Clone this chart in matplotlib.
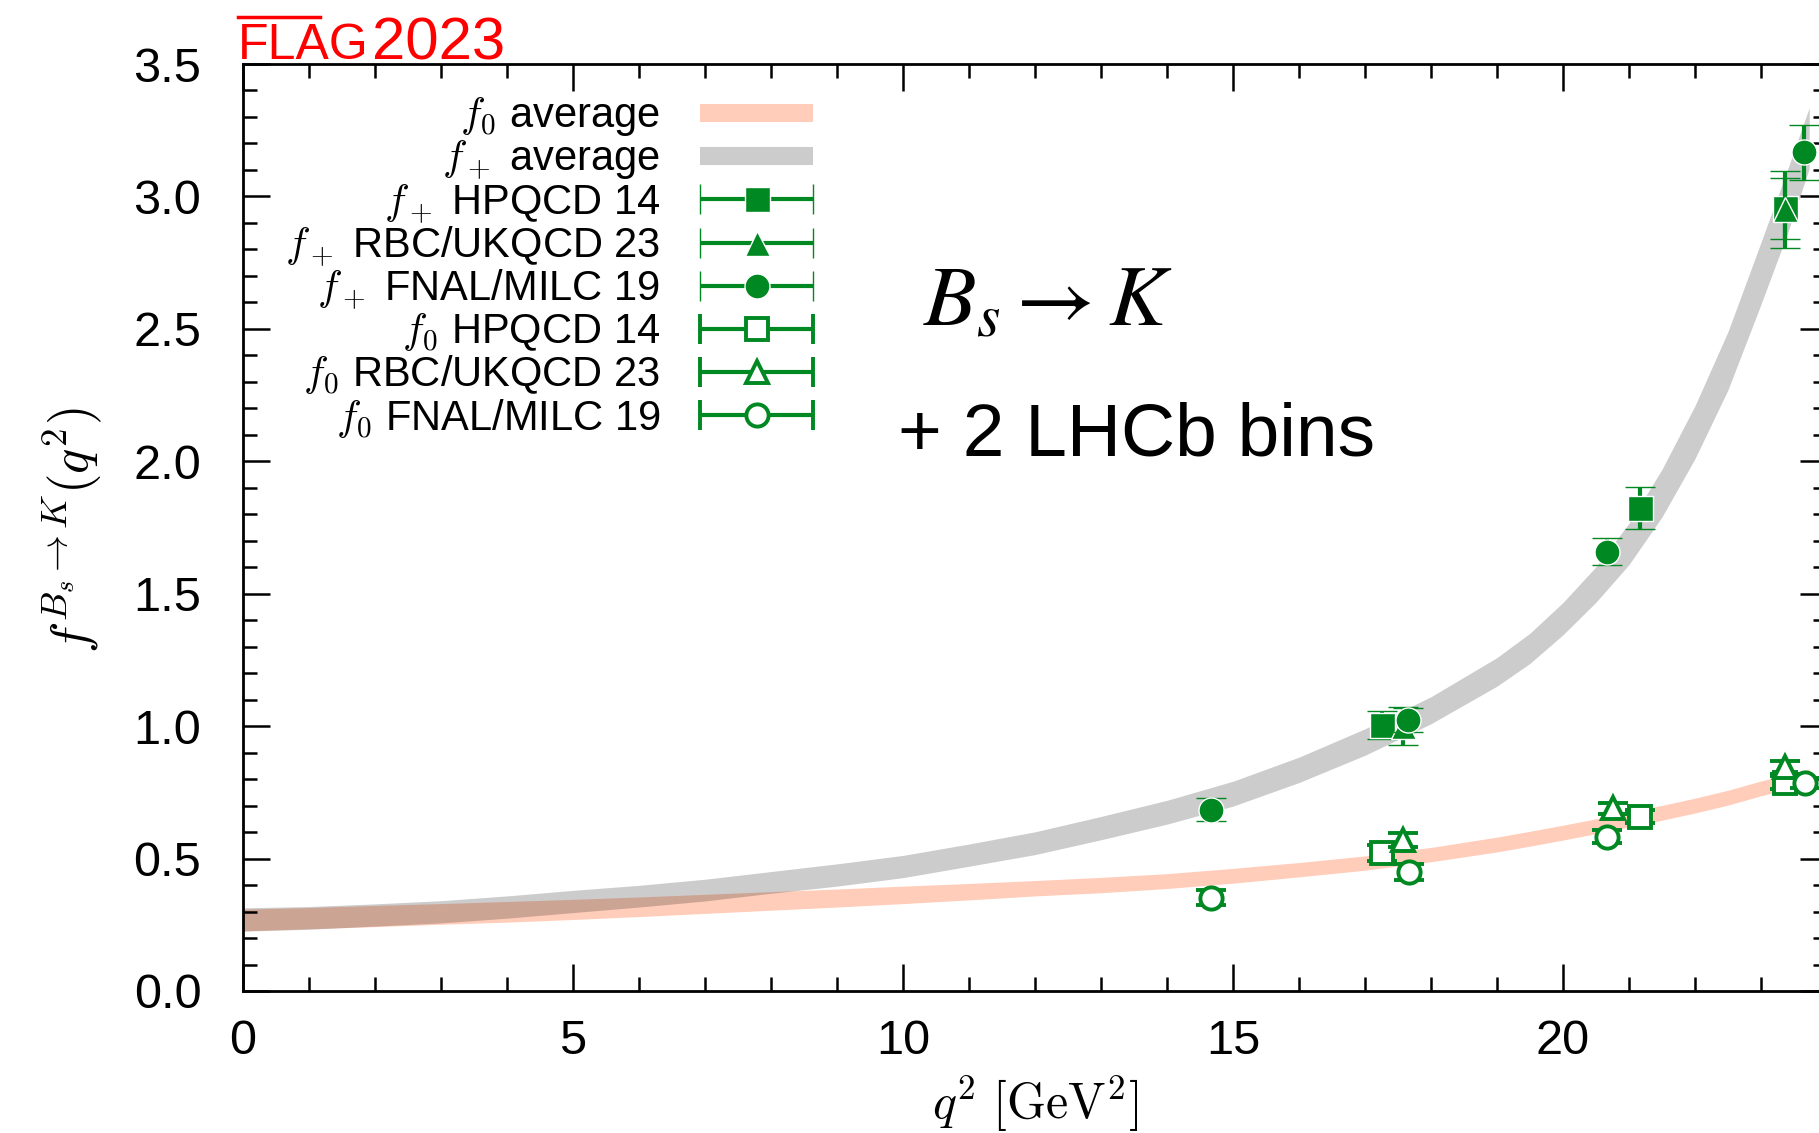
import numpy as np
import matplotlib
matplotlib.use('Agg')
import matplotlib.pyplot as plt
from matplotlib.ticker import MultipleLocator, FormatStrFormatter
from matplotlib.lines import Line2D

plt.rcParams['font.family'] = ['Liberation Sans', 'DejaVu Sans']
plt.rcParams['mathtext.fontset'] = 'cm'

# FLAG average bands: q^2, centre, half width
q_band = [0, 1, 2, 3, 4, 5, 6, 7, 8, 9, 10, 11, 12, 13, 14, 15, 16, 17, 18, 19,
          19.5, 20, 20.5, 21, 21.5, 22, 22.5, 23, 23.4, 23.73]
fp_mid = [0.270, 0.276, 0.287, 0.299, 0.317, 0.338, 0.358, 0.381, 0.410, 0.438,
          0.470, 0.513, 0.558, 0.615, 0.675, 0.745, 0.835, 0.940, 1.060, 1.205,
          1.294, 1.406, 1.535, 1.688, 1.880, 2.110, 2.380, 2.710, 2.980, 3.220]
fp_hw = [0.044, 0.043, 0.042, 0.042, 0.042, 0.042, 0.041, 0.041, 0.041, 0.042,
         0.042, 0.042, 0.043, 0.044, 0.045, 0.047, 0.048, 0.050, 0.051, 0.054,
         0.057, 0.061, 0.067, 0.078, 0.090, 0.100, 0.110, 0.117, 0.120, 0.115]
f0_mid = [0.268, 0.275, 0.283, 0.291, 0.299, 0.308, 0.318, 0.329, 0.340, 0.351,
          0.363, 0.375, 0.388, 0.400, 0.415, 0.435, 0.458, 0.483, 0.515, 0.553,
          0.575, 0.598, 0.622, 0.648, 0.673, 0.700, 0.730, 0.765, 0.790, 0.810]
f0_hw = [0.041, 0.040, 0.040, 0.039, 0.039, 0.038, 0.037, 0.036, 0.035, 0.034,
         0.033, 0.031, 0.029, 0.029, 0.028, 0.028, 0.027, 0.027, 0.027, 0.028,
         0.028, 0.028, 0.028, 0.028, 0.028, 0.028, 0.028, 0.028, 0.028, 0.028]

# lattice data points: q^2, value, error
fp_hpqcd_q = [17.25, 21.16, 23.36]
fp_hpqcd_v = [1.005, 1.823, 2.956]
fp_hpqcd_e = [0.054, 0.079, 0.115]
fp_rbc_q = [17.58, 23.36]
fp_rbc_v = [1.000, 2.952]
fp_rbc_e = [0.071, 0.145]
fp_fnal_q = [14.67, 17.65, 20.66, 23.65]
fp_fnal_v = [0.684, 1.023, 1.659, 3.166]
fp_fnal_e = [0.044, 0.045, 0.050, 0.105]
f0_hpqcd_q = [17.25, 21.16, 23.36]
f0_hpqcd_v = [0.520, 0.658, 0.786]
f0_hpqcd_e = [0.030, 0.024, 0.025]
f0_rbc_q = [17.58, 20.76, 23.36]
f0_rbc_v = [0.570, 0.690, 0.845]
f0_rbc_e = [0.025, 0.020, 0.025]
f0_fnal_q = [14.67, 17.67, 20.66, 23.66]
f0_fnal_v = [0.352, 0.448, 0.583, 0.785]
f0_fnal_e = [0.028, 0.030, 0.025, 0.020]

labels = [r'$f_0$ average', r'$f_+$ average', r'$f_+$ HPQCD 14',
          r'$f_+$ RBC/UKQCD 23', r'$f_+$ FNAL/MILC 19', r'$f_0$ HPQCD 14',
          r'$f_0$ RBC/UKQCD 23', r'$f_0$ FNAL/MILC 19']

green = '#008822'
peach = '#ffcdb9'

fig = plt.figure(figsize=(18.19, 11.33), dpi=100)
ax = fig.add_axes([243/1819, (1133-991)/1133, (1827-243)/1819, (991-64)/1133])

q = np.array(q_band)
ax.fill_between(q, np.array(f0_mid)-np.array(f0_hw), np.array(f0_mid)+np.array(f0_hw),
                color=peach, lw=0, zorder=1)
ax.fill_between(q, np.array(fp_mid)-np.array(fp_hw), np.array(fp_mid)+np.array(fp_hw),
                color='black', alpha=0.2, lw=0, zorder=2)

series = [
    (fp_hpqcd_q, fp_hpqcd_v, fp_hpqcd_e, 's', True),
    (fp_rbc_q, fp_rbc_v, fp_rbc_e, '^', True),
    (fp_fnal_q, fp_fnal_v, fp_fnal_e, 'o', True),
    (f0_hpqcd_q, f0_hpqcd_v, f0_hpqcd_e, 's', False),
    (f0_rbc_q, f0_rbc_v, f0_rbc_e, '^', False),
    (f0_fnal_q, f0_fnal_v, f0_fnal_e, 'o', False),
]

def style(marker, filled):
    if filled:
        return dict(fmt=marker, color=green, ms=18, mfc=green, mec='white', mew=1.0,
                    elinewidth=3, capsize=11, capthick=3)
    return dict(fmt=marker, color=green, ms=16, mfc='white', mec=green, mew=2.8,
                elinewidth=3, capsize=11, capthick=3)

for i, (xs, ys, es, m, filled) in enumerate(series):
    ax.errorbar(xs, ys, yerr=es, zorder=5 + i, **style(m, filled))

# legend, drawn by hand: text right aligned, key on the right
row0, drow = 3.315, 0.163
x_txt, x_key, key_half = 6.32, 7.785, 0.855
for i, lab in enumerate(labels):
    row = row0 - i * drow
    ax.text(x_txt, row - 0.054, lab, ha='right', va='baseline', fontsize=30, zorder=20)
    if i < 2:
        col = peach if i == 0 else '#cccccc'
        ax.plot([x_key - key_half, x_key + key_half], [row, row], lw=13, color=col,
                solid_capstyle='butt', zorder=20)
    else:
        xs, ys, es, m, filled = series[i - 2]
        ax.errorbar([x_key], [row], xerr=[key_half], zorder=20, **style(m, filled))

ax.text(10.3, 2.515, r'$B_s \to K$', fontsize=62, va='baseline', math_fontfamily='stix')
ax.text(9.92, 2.02, '+ 2 LHCb bins', fontsize=54, va='baseline')

ax.set_xlim(0, 24)
ax.set_ylim(0, 3.5)
ax.xaxis.set_major_locator(MultipleLocator(5))
ax.xaxis.set_minor_locator(MultipleLocator(1))
ax.yaxis.set_major_locator(MultipleLocator(0.5))
ax.yaxis.set_minor_locator(MultipleLocator(0.1))
ax.yaxis.set_major_formatter(FormatStrFormatter('%.1f'))
ax.xaxis.set_major_formatter(FormatStrFormatter('%d'))
ax.tick_params(which='both', direction='in', top=True, right=True, width=1.8)
ax.tick_params(which='major', length=19.5)
ax.tick_params(which='minor', length=10)
ax.tick_params(axis='y', pad=30, labelsize=35)
ax.tick_params(axis='x', pad=20, labelsize=35)
for s in ax.spines.values():
    s.set_linewidth(2)

fig.text(72/1819, 1-530/1133, r'$f^{B_s\to K}(q^2)$', rotation=90, ha='center',
         va='center', fontsize=38)
fig.text(1035/1819, 1-1104/1133, r'$q^2\ [\mathrm{GeV}^2]$', ha='center', va='center',
         fontsize=36)

# FLAG logo
fig.text(238/1819, 1-59/1133, 'FLAG', color='red', fontsize=36, va='baseline')
fig.text(372/1819, 1-59/1133, '2023', color='red', fontsize=43, va='baseline')
fig.add_artist(Line2D([238/1819, 320/1819], [1-17/1133, 1-17/1133], color='red', lw=2.5))

fig.savefig('out.png', dpi=100)
